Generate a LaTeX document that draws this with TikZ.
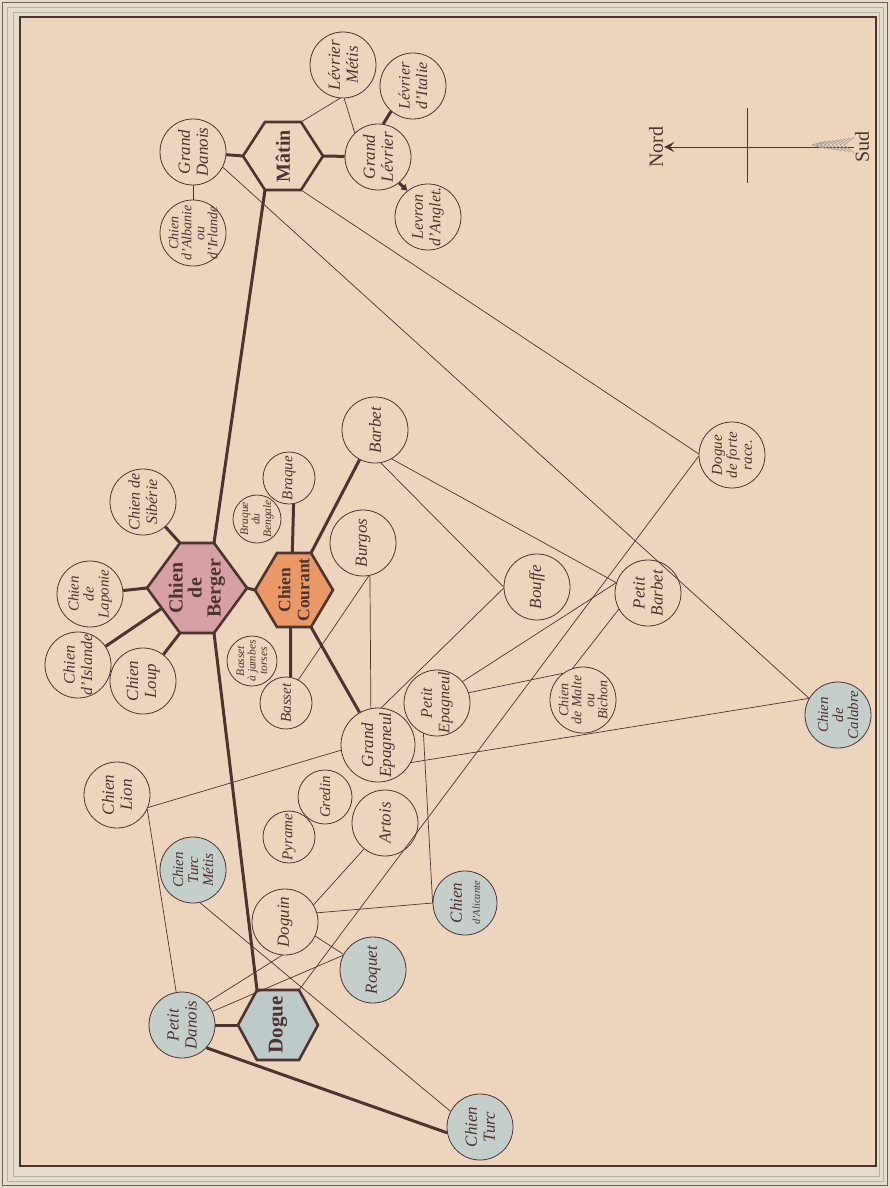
\documentclass[tikz,border=0pt]{standalone}
\usepackage{fontspec}
\setmainfont{Liberation Serif}
\usetikzlibrary{arrows.meta,calc}
\definecolor{ink}{RGB}{78,52,48}
\definecolor{paper}{RGB}{236,213,188}
\definecolor{rim}{RGB}{229,221,203}
\definecolor{bluec}{RGB}{196,207,203}
\definecolor{pinkc}{RGB}{214,160,164}
\definecolor{orangec}{RGB}{234,152,102}
\definecolor{dogc}{RGB}{190,202,202}
\newcommand\dog[5][]{\node[dc,#1,label={[lbl,#4]center:{#5}}] (#2) at (#3) {};}
\newcommand\hexa[6]{%
  \coordinate (#1) at (#2);
  \path (#1) ++(-#3,0) coordinate (#1-l)
        (#1) ++(-#4,-#5) coordinate (#1-tl)
        (#1) ++(#4,-#5) coordinate (#1-tr)
        (#1) ++(#3,0) coordinate (#1-r)
        (#1) ++(#4,#5) coordinate (#1-br)
        (#1) ++(-#4,#5) coordinate (#1-bl);
  \draw[hexline,fill=#6] (#1-l) -- (#1-tl) -- (#1-tr) -- (#1-r) -- (#1-br) -- (#1-bl) -- cycle;
}
\begin{document}
\begin{tikzpicture}[x=1pt,y=-1pt,
  dc/.style={circle,draw=ink,line width=0.8pt,minimum size=66pt,inner sep=0pt},
  bl/.style={fill=bluec},
  lbl/.style={rotate=90,align=center,text=ink,inner sep=0pt,font=\fontsize{17}{18}\selectfont\itshape},
  fa/.style={font=\fontsize{17}{18}\selectfont\itshape},
  fa2/.style={font=\fontsize{16}{17.5}\selectfont\itshape},
  fb/.style={font=\fontsize{15}{15}\selectfont\itshape},
  fc/.style={font=\fontsize{14}{13}\selectfont\itshape},
  fs/.style={font=\fontsize{11.5}{11.5}\selectfont\itshape},
  hexlbl/.style={rotate=90,align=center,text=ink,inner sep=0pt,font=\fontsize{20}{19}\selectfont\bfseries},
  hexline/.style={draw=ink,line width=2.6pt,line join=miter},
  tn/.style={draw=ink,line width=0.7pt},
  tk/.style={draw=ink,line width=3pt},
]
\useasboundingbox (0,0) rectangle (890,1188);
% frame
\fill[rim] (0,0) rectangle (890,1188);
\draw[ink!80, line width=1pt] (2.5,2.5) rectangle (887.5,1185.5);
\draw[ink!40, line width=0.5pt] (7,7) rectangle (883,1181);
\draw[ink!40, line width=0.5pt] (13,12) rectangle (879,1176);
\fill[paper] (20,17) rectangle (876,1166);
\draw[ink, line width=1.6pt] (20,17) rectangle (876,1166);

% hexagons
\hexa{matin}{283,156}{40}{18}{34}{paper}
\node[hexlbl] (matinT) at (matin) {Mâtin};
\hexa{berger}{197,588}{50}{17}{45}{pinkc}
\node[hexlbl] (bergerT) at (berger) {Chien\\de\\Berger};
\hexa{courant}{294,590}{39}{17}{37}{orangec}
\node[hexlbl,font=\fontsize{17.5}{19}\selectfont\bfseries] (courantT) at (courant) {Chien\\Courant};
\hexa{dogue}{278,1025}{40}{21}{35}{dogc}
\node[hexlbl,font=\fontsize{21}{20}\selectfont\bfseries] (dogueT) at (dogue) {Dogue};

% circles
\dog{gdanois}{193,152}{fa}{Grand\\Danois}
\dog{albanie}{193,233}{fc}{Chien\\d'Albanie\\ou\\d'Irlande}
\dog{levmetis}{343,65}{fa}{Lévrier\\Métis}
\dog{levitalie}{413,86}{fa2}{Lévrier\\d'Italie}
\dog{glevrier}{378,157}{fa}{Grand\\Lévrier}
\dog{levron}{428,217}{fa2}{Levron\\d'Anglet.}
\dog{siberie}{143,502}{fa2}{Chien de\\Sibérie}
\dog{laponie}{90,594}{fb}{Chien\\de\\Laponie}
\dog{islande}{78,665}{fa2}{Chien\\d'Islande}
\dog{loup}{143,681}{fa}{Chien\\Loup}
\dog[minimum size=52pt]{braque}{289,478}{fb}{Braque}
\dog[minimum size=48pt]{bengale}{257,519}{fs}{Braque\\du\\Bengale}
\dog{barbet}{375,430}{fa}{Barbet}
\dog{burgos}{363,543}{fa}{Burgos}
\dog[minimum size=52pt]{basset}{286,703}{fb}{Basset}
\dog[minimum size=50pt]{torses}{252,661}{fs}{Basset\\à jambes\\torses}
\dog[minimum size=74pt]{gepagneul}{378,745}{fa}{Grand\\Epagneul}
\dog{pepagneul}{437,703}{fa2}{Petit\\Epagneul}
\dog{bouffe}{537,587}{fa}{Bouffe}
\dog{pbarbet}{648,593}{fa}{Petit\\Barbet}
\dog{dogueforte}{732,455}{fb}{Dogue\\de forte\\race.}
\dog{malte}{583,700}{fc}{Chien\\de Malte\\ou\\Bichon}
\dog[bl]{calabre}{838,715}{fb}{Chien\\de\\Calabre}
\dog{lion}{117,795}{fa}{Chien\\Lion}
\dog[bl]{turcmetis}{193,870}{fb}{Chien\\Turc\\Métis}
\dog[minimum size=52pt]{pyrame}{289,837}{fb}{Pyrame}
\dog[minimum size=54pt]{gredin}{325,797}{fb}{Gredin}
\dog{artois}{385,823}{fa}{Artois}
\dog{doguin}{285,922}{fa}{Doguin}
\dog[bl]{roquet}{373,970}{fa}{Roquet}
\dog[bl,minimum size=64pt]{alicante}{465,903}{fa}{Chien\\{\fontsize{10.5}{10.5}\selectfont d'Alicante}}
\dog[bl]{pdanois}{182,1025}{fa}{Petit\\Danois}
\dog[bl]{cturc}{480,1127}{fa}{Chien\\Turc}

% thick connectors
\draw[tk] (gdanois) -- (matin-l);
\draw[tk] (matin-r) -- (glevrier);
\draw[tk] (glevrier.81) -- (levitalie.229);
\draw[tk,-{Triangle[length=6pt,width=7pt]}] (glevrier.-51) -- (levron.128);
\draw[tk] (matin-bl) -- (berger-tr);
\draw[tk] (berger-br) -- (dogue-tl);
\draw[tk] (berger-tl) -- (siberie);
\draw[tk] (berger-l) -- (laponie);
\draw[tk] ($(berger-l)!0.45!(berger-bl)$) -- (islande);
\draw[tk] (berger-bl) -- (loup);
\draw[tk] (berger-r) -- (courant-l);
\draw[tk] ($(courant-tl)!0.45!(courant-tr)$) -- (braque.-80);
\draw[tk] (courant-tr) -- (barbet);
\draw[tk] ($(courant-bl)!0.4!(courant-br)$) -- (basset.80);
\draw[tk] (courant-br) -- (gepagneul);
\draw[tk] (dogue-l) -- (pdanois);
\draw[tk] (pdanois.-43) -- (cturc.190);

% thin connectors
\draw[tn] (gdanois) -- (albanie);
\draw[tn] (matin-tr) -- (levmetis.-95);
\draw[tn] (levmetis.-88) -- (glevrier.134);
\draw[tn] (gdanois.-27) -- (calabre.150);
\draw[tn] (matin-br) -- (dogueforte.178);
\draw[tn] (dogue-tr) -- (dogueforte.182);
\draw[tn] (barbet.-60) -- (pbarbet.162);
\draw[tn] (barbet.-80) -- (bouffe.180);
\draw[tn] (basset.62) -- (burgos.-80);
\draw[tn] (burgos.-78) -- (gepagneul.101);
\draw[tn] (gepagneul.85) -- (bouffe.182);
\draw[tn] (lion.-22) -- (gepagneul.188);
\draw[tn] (lion.-25) -- (pdanois.100);
\draw[tn] (gepagneul.-28) -- (calabre.150);
\draw[tn] (pepagneul.40) -- (pbarbet.162);
\draw[tn] (pepagneul.18) -- (malte.127);
\draw[tn] (pbarbet.209) -- (malte.108);
\draw[tn] (pepagneul.246) -- (alicante.180);
\draw[tn] (doguin.31) -- (artois.231);
\draw[tn] (doguin.16) -- (alicante.180);
\draw[tn] (doguin.-25) -- (roquet.152);
\draw[tn] (pdanois.42) -- (doguin.265);
\draw[tn] (pdanois.24) -- (roquet.154);
\draw[tn] (turcmetis.-78) -- (cturc.152);

% compass
\node[rotate=90,text=ink,inner sep=1pt,font=\fontsize{20}{20}\selectfont] (nord) at (656,147) {Nord};
\node[rotate=90,text=ink,inner sep=1pt,font=\fontsize{20}{20}\selectfont] (sud) at (862,147) {Sud};
\draw[ink,line width=0.7pt,-{Stealth[length=10pt,width=10pt,inset=4pt]}] (sud.north) -- (nord.south);
\coordinate (crossT) at (747,108);
\coordinate (crossB) at (747,183);
\draw[ink,line width=0.7pt] (crossT) -- (crossB);
\foreach \i in {0,...,8}
  \draw[ink!50,line width=0.7pt] (812+4*\i,145) -- ++(10,{-3-0.6*\i}) (812+4*\i,145) -- ++(10,{3+0.6*\i});
\end{tikzpicture}
\end{document}
